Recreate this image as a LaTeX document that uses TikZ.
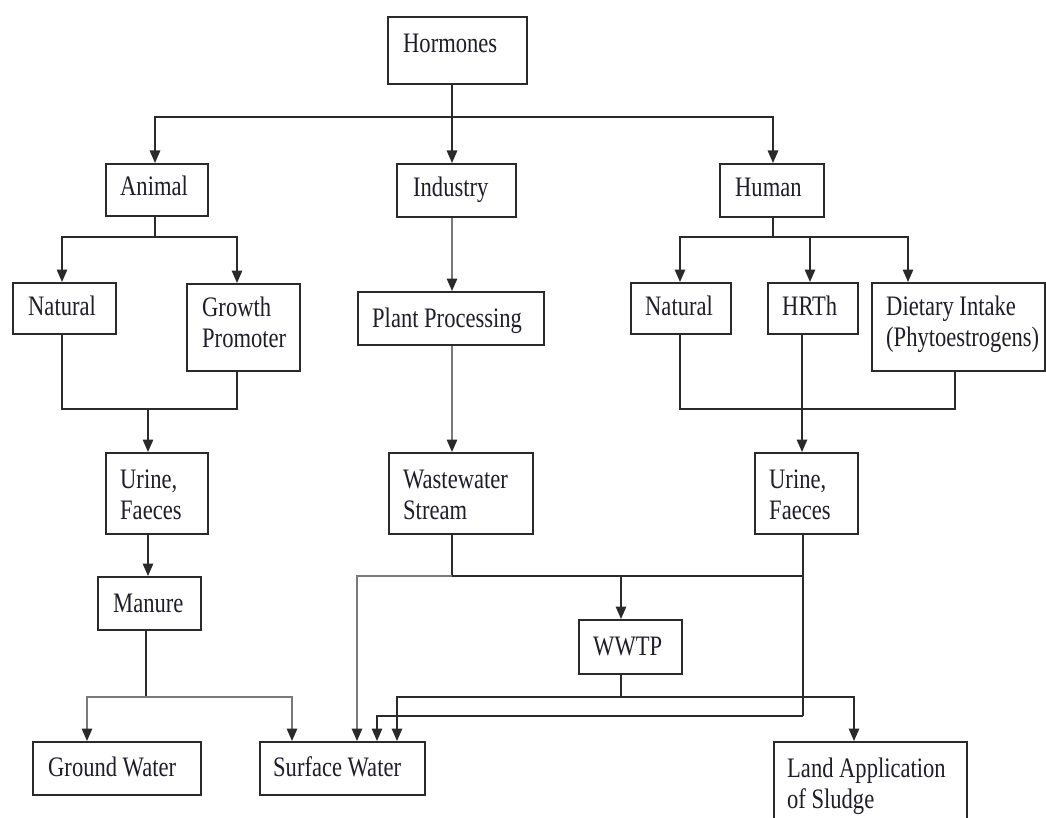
\documentclass[tikz,border=0pt]{standalone}
\usepackage{fontspec}
\setmainfont{Liberation Serif}[FakeStretch=0.80]
\usetikzlibrary{arrows.meta}
\definecolor{lc}{HTML}{2A2A2A}
\definecolor{gc}{HTML}{7A7A7A}
\definecolor{tc}{HTML}{1E1E28}
\newcommand\twol[2]{\begin{tabular}[t]{@{}l@{}}#1\\#2\end{tabular}}
\tikzset{
  box/.style={draw=lc, line width=1.7pt, anchor=north west, inner sep=0pt, fill=none},
  txt/.style={anchor=base west, inner sep=0pt, text=tc, font=\fontsize{28.2}{31}\selectfont},
  ln/.style={draw=lc, line width=1.5pt},
  gl/.style={draw=gc},
  arr/.style={ln, -{Triangle[width=10.5pt,length=12.5pt,color=lc]}}
}
\begin{document}
\begin{tikzpicture}[x=1pt,y=-1pt]
\fill[white] (0,0) rectangle (1046,818);
\useasboundingbox (0,0) rectangle (1046,818);
\clip (0,0) rectangle (1046,818);
% boxes
\node[box, minimum width=139pt, minimum height=67pt] (hormones) at (387,16) {};
\node[box, minimum width=102pt, minimum height=52pt] (animal) at (105,163) {};
\node[box, minimum width=119pt, minimum height=53pt] (industry) at (396,163) {};
\node[box, minimum width=104pt, minimum height=53pt] (human) at (719,163) {};
\node[box, minimum width=103pt, minimum height=51pt] (natA) at (12,282) {};
\node[box, minimum width=113pt, minimum height=87pt] (growth) at (186,283) {};
\node[box, minimum width=186pt, minimum height=53pt] (plant) at (357,291) {};
\node[box, minimum width=100pt, minimum height=51pt] (natH) at (630,282) {};
\node[box, minimum width=90pt, minimum height=51pt] (hrth) at (767,282) {};
\node[box, minimum width=173pt, minimum height=88pt] (diet) at (871,282) {};
\node[box, minimum width=102pt, minimum height=81pt] (urineA) at (105,452) {};
\node[box, minimum width=144pt, minimum height=81pt] (waste) at (388,452) {};
\node[box, minimum width=103pt, minimum height=81pt] (urineH) at (754,452) {};
\node[box, minimum width=103pt, minimum height=53pt] (manure) at (97,576) {};
\node[box, minimum width=103pt, minimum height=54pt] (wwtp) at (578,619) {};
\node[box, minimum width=168pt, minimum height=53pt] (ground) at (32,741) {};
\node[box, minimum width=165pt, minimum height=53pt] (surface) at (259,741) {};
\node[box, minimum width=193pt, minimum height=100pt] (land) at (773,741) {};
% texts
\node[txt] (tHormones) at (403,53) {Hormones};
\node[txt] (tAnimal) at (120,196) {Animal};
\node[txt] (tIndustry) at (413,197) {Industry};
\node[txt] (tHuman) at (735,197) {Human};
\node[txt] (tNatA) at (28,315) {Natural};
\node[txt] (tGrowth) at (202,316) {\twol{Growth}{Promoter}};
\node[txt] (tPlant) at (372,327) {Plant Processing};
\node[txt] (tNatH) at (645,315) {Natural};
\node[txt] (tHrth) at (782,315) {HRTh};
\node[txt] (tDiet) at (886,315) {\twol{Dietary Intake}{(Phytoestrogens)}};
\node[txt] (tUrineA) at (120,488) {\twol{Urine,}{Faeces}};
\node[txt] (tWaste) at (403,488) {\twol{Wastewater}{Stream}};
\node[txt] (tUrineH) at (769,488) {\twol{Urine,}{Faeces}};
\node[txt] (tManure) at (113,612) {Manure};
\node[txt] (tWwtp) at (593,655) {WWTP};
\node[txt] (tGround) at (48,776) {Ground Water};
\node[txt] (tSurface) at (273,776) {Surface Water};
\node[txt] (tLand) at (787,777) {\twol{Land Application}{of Sludge}};
% junctions and columns
\coordinate (b1) at (452,117);
\coordinate (b2) at (155,237);
\coordinate (b3) at (773,237);
\coordinate (m1) at (148,409);
\coordinate (m2) at (802,409);
\coordinate (b4) at (452,576);
\coordinate (b5) at (146,697);
\coordinate (b6) at (621,697);
\coordinate (b7) at (803,716);
\coordinate (xNA) at (62,0);
\coordinate (xGP) at (237,0);
\coordinate (xGW) at (87,0);
\coordinate (xS1) at (292,0);
\coordinate (xS2) at (357,0);
\coordinate (xS3) at (377,0);
\coordinate (xS4) at (397,0);
\coordinate (xNH) at (680,0);
\coordinate (xHR) at (810,0);
\coordinate (xDI) at (908,0);
\coordinate (xDIo) at (955,0);
\coordinate (xLA) at (854,0);
% hormones
\draw[ln] (hormones.south -| b1) -- (b1);
\draw[arr] (b1) -| (animal.north -| b2);
\draw[arr] (b1) -- (industry.north -| b1);
\draw[arr] (b1) -| (human.north -| b3);
% animal
\draw[ln] (animal.south -| b2) -- (b2);
\draw[arr] (b2) -| (natA.north -| xNA);
\draw[arr] (b2) -| (growth.north -| xGP);
\draw[ln] (natA.south -| xNA) |- (m1 -| xGP) -- (growth.south -| xGP);
\draw[arr] (m1) -- (urineA.north -| m1);
\draw[arr] (urineA.south -| m1) -- (manure.north -| m1);
\draw[ln] (manure.south -| b5) -- (b5);
\draw[arr, gl] (b5) -| (ground.north -| xGW);
\draw[arr, gl] (b5) -| (surface.north -| xS1);
% industry
\draw[arr, gl] (industry.south -| b1) -- (plant.north -| b1);
\draw[arr, gl] (plant.south -| b1) -- (waste.north -| b1);
\draw[ln] (waste.south -| b1) -- (b4) -- (b4 -| b7);
\draw[arr, gl] (b4) -| (surface.north -| xS2);
\draw[arr] (b4 -| b6) -- (wwtp.north -| b6);
% human
\draw[ln] (human.south -| b3) -- (b3);
\draw[arr] (b3) -| (natH.north -| xNH);
\draw[arr] (b3) -| (hrth.north -| xHR);
\draw[arr] (b3) -| (diet.north -| xDI);
\draw[ln] (natH.south -| xNH) |- (m2 -| xDIo) -- (diet.south -| xDIo);
\draw[ln] (hrth.south -| m2) -- (m2);
\draw[arr] (m2) -- (urineH.north -| m2);
\draw[ln] (urineH.south -| b7) -- (b7);
\draw[arr] (b7) -| (surface.north -| xS3);
% wwtp
\draw[ln] (wwtp.south -| b6) -- (b6);
\draw[arr] (b6) -| (surface.north -| xS4);
\draw[arr] (b6) -| (land.north -| xLA);
\end{tikzpicture}
\end{document}
